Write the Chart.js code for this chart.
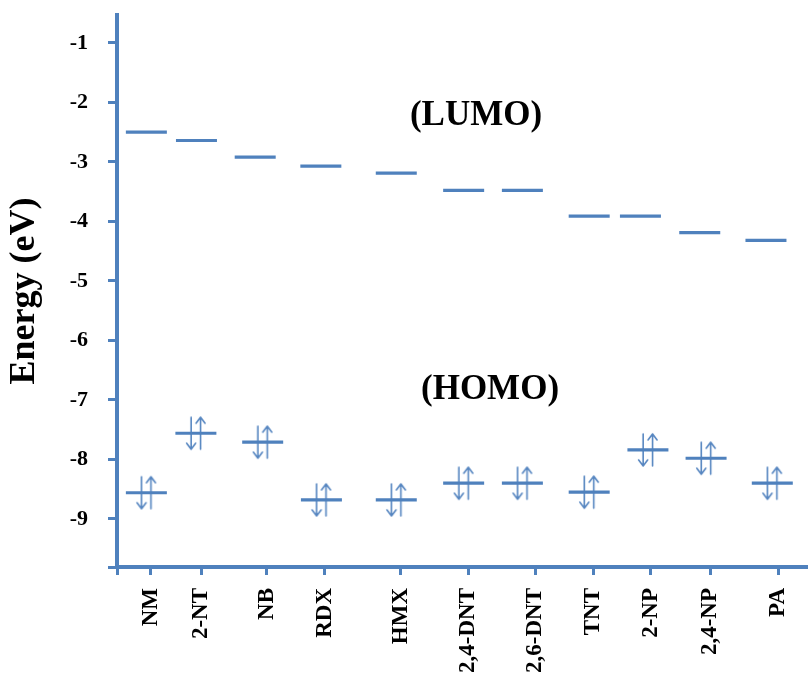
<!DOCTYPE html>
<html><head><meta charset="utf-8">
<script src="https://cdn.jsdelivr.net/npm/chart.js@4"></script>
<style>html,body{margin:0;padding:0;background:#fff;} canvas{display:block;}</style>
</head><body>
<canvas id="c" width="808" height="678"></canvas>
<script>
// ---- data ----
const categories = ['NM','2-NT','NB','RDX','HMX','2,4-DNT','2,6-DNT','TNT','2-NP','2,4-NP','PA'];
const lumo = [-2.50,-2.64,-2.92,-3.07,-3.19,-3.48,-3.48,-3.91,-3.91,-4.19,-4.32];
const homo = [-8.56,-7.56,-7.71,-8.68,-8.68,-8.40,-8.40,-8.55,-7.84,-7.98,-8.40];
const labelX = [0.59,1.46,2.60,3.61,4.93,6.10,7.26,8.27,9.27,10.30,11.48];
const lumoX = [0.51,1.38,2.40,3.54,4.85,6.02,7.04,8.20,9.09,10.12,11.27];
const homoX = [0.51,1.37,2.53,3.55,4.85,6.02,7.04,8.20,9.22,10.23,11.38];
const yTicks = [-1,-2,-3,-4,-5,-6,-7,-8,-9];
const annotations = [{text:'(LUMO)', x:6.235, y:-2.38},{text:'(HOMO)', x:6.478, y:-6.985}];
const X_MIN = 0, X_MAX = 12, Y_MIN = -9.808, Y_MAX = -0.531;

// ---- styles ----
const BLUE = '#4F81BD';
const SERIF = '"Liberation Serif", "Times New Roman", serif';

function makeArrows(color){
  const c = document.createElement('canvas'); c.width = 22; c.height = 36;
  const g = c.getContext('2d');
  g.strokeStyle = color; g.lineWidth = 1.6; g.lineCap = 'round'; g.lineJoin = 'round';
  const cx = 11, cy = 18, dx = cx - 4.8, ux = cx + 4.6, top = cy - 16, bot = cy + 16;
  g.beginPath(); g.moveTo(ux, bot); g.lineTo(ux, top);
  g.moveTo(ux - 4.5, top + 6); g.lineTo(ux, top); g.lineTo(ux + 4.5, top + 6); g.stroke();
  g.beginPath(); g.moveTo(dx, top); g.lineTo(dx, bot);
  g.moveTo(dx - 4.5, bot - 6); g.lineTo(dx, bot); g.lineTo(dx + 4.5, bot - 6); g.stroke();
  return c;
}
const arrows = makeArrows('#5585C0');

const textPlugin = {
  id: 'levelText',
  afterDatasetsDraw(chart){
    const {ctx, scales:{x, y}} = chart;
    ctx.save();
    ctx.font = 'bold 35px ' + SERIF;
    ctx.fillStyle = '#000'; ctx.textAlign = 'center'; ctx.textBaseline = 'alphabetic';
    annotations.forEach(a => ctx.fillText(a.text, x.getPixelForValue(a.x), y.getPixelForValue(a.y)));
    ctx.restore();
  }
};

function noPad(s){ s.paddingTop = 0; s.paddingBottom = 0; s.paddingLeft = 0; s.paddingRight = 0; }

const levelStyle = {pointStyle:'line', pointRadius:20.5, pointBorderWidth:3.2, borderColor:BLUE, backgroundColor:BLUE, showLine:false};

new Chart(document.getElementById('c'), {
  type: 'scatter',
  data: {
    datasets: [
      Object.assign({label:'LUMO', data: categories.map((c,i)=>({x:lumoX[i], y:lumo[i]}))}, levelStyle),
      Object.assign({label:'HOMO', data: categories.map((c,i)=>({x:homoX[i], y:homo[i]}))}, levelStyle),
      {label:'electrons', data: categories.map((c,i)=>({x:homoX[i], y:homo[i]})), pointStyle: arrows, pointRadius: 16, showLine:false}
    ]
  },
  options: {
    responsive: false, animation: false, events: [],
    layout: {autoPadding:false, padding: {top:15, left:0, right:0, bottom:0}},
    plugins: {legend:{display:false}, tooltip:{enabled:false}},
    scales: {
      x: {
        type:'linear', position:'bottom', min:X_MIN, max:X_MAX,
        afterBuildTicks: s => { s.ticks = [X_MIN, ...labelX].map(v => ({value:v})); },
        afterFit: s => { s.height = 111; noPad(s); },
        ticks: {autoSkip:false, minRotation:90, maxRotation:90, padding:13, color:'#000',
          font:{family:SERIF, size:23, weight:'bold'},
          callback: v => { const i = labelX.indexOf(v); return i < 0 ? '' : categories[i]; }},
        grid: {drawOnChartArea:false, drawTicks:true, tickLength:8, tickWidth:3, tickColor:BLUE, color:BLUE},
        border: {display:true, color:BLUE, width:4}
      },
      y: {
        type:'linear', position:'left', min:Y_MIN, max:Y_MAX,
        afterBuildTicks: s => { s.ticks = [...yTicks, Y_MIN].map(v => ({value:v})); },
        afterFit: s => { s.width = 117; noPad(s); },
        ticks: {padding:20, color:'#000', font:{family:SERIF, size:22, weight:'bold'},
          callback: v => yTicks.includes(v) ? String(v) : ''},
        grid: {drawOnChartArea:false, drawTicks:true, tickLength:9, tickWidth:3, tickColor:BLUE, color:BLUE},
        border: {display:true, color:BLUE, width:4},
        title: {display:true, text:'Energy (eV)', color:'#000', padding:{top:3, bottom:0},
          font:{family:SERIF, size:36, weight:'bold'}}
      }
    }
  },
  plugins: [textPlugin]
});
</script>
</body></html>
